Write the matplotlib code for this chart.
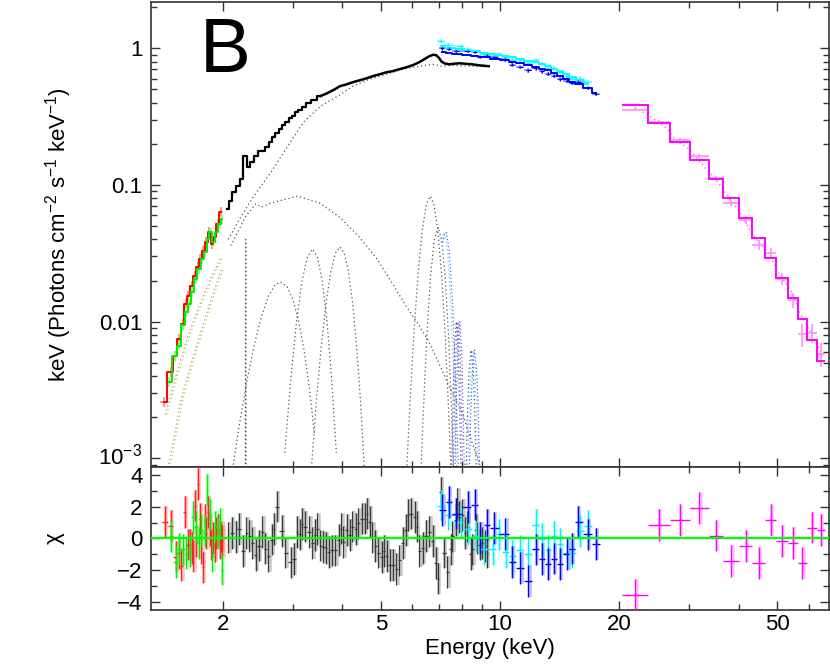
import numpy as np
import matplotlib
matplotlib.use('Agg')
import matplotlib.pyplot as plt
from matplotlib.ticker import FixedLocator, FixedFormatter, NullFormatter
from matplotlib.transforms import ScaledTranslation

plt.rcParams['font.family'] = ['Liberation Sans', 'DejaVu Sans']
plt.rcParams['mathtext.fontset'] = 'custom'
plt.rcParams['mathtext.rm'] = 'Liberation Sans'
plt.rcParams['mathtext.it'] = 'Liberation Sans:italic'
plt.rcParams['mathtext.default'] = 'regular'

# ---------------- data ----------------
# black instrument: unfolded spectrum (step model), keV
blk_E = [2.04, 2.09, 2.13, 2.18, 2.22, 2.27, 2.32, 2.36, 2.42, 2.47, 2.53, 2.58, 2.64, 2.68, 2.73,
         2.79, 2.84, 2.89, 2.96, 3.01, 3.06, 3.13, 3.19, 3.28, 3.38, 3.52, 3.66, 3.83, 3.94, 4.11,
         4.25, 4.43, 4.61, 4.77, 4.97, 5.17, 5.35, 5.57, 5.80, 6.01, 6.25, 6.43, 6.62, 6.78, 6.90,
         7.02, 7.10, 7.22, 7.43, 7.65, 7.87, 8.19, 8.48, 8.84, 9.36]
blk_F = [0.0668, 0.0764, 0.0889, 0.0984, 0.1106, 0.163, 0.135, 0.147, 0.163, 0.177, 0.177, 0.189, 0.206, 0.224, 0.240,
         0.256, 0.274, 0.288, 0.308, 0.319, 0.341, 0.353, 0.371, 0.397, 0.417, 0.447, 0.469, 0.502, 0.528, 0.546,
         0.565, 0.584, 0.604, 0.625, 0.646, 0.668, 0.680, 0.703, 0.726, 0.751, 0.791, 0.831, 0.874, 0.897, 0.889,
         0.846, 0.804, 0.777, 0.764, 0.770, 0.777, 0.770, 0.764, 0.751, 0.739]

# red and green instruments (low energy)
red_E = [1.416, 1.474, 1.513, 1.544, 1.580, 1.607, 1.630, 1.664, 1.697, 1.727, 1.752, 1.777, 1.814, 1.845,
         1.877, 1.904, 1.937, 1.977]
red_F = [0.0026, 0.00432, 0.00565, 0.00752, 0.00967, 0.0135, 0.0155, 0.0183, 0.0217, 0.0252, 0.0288, 0.033,
         0.0384, 0.0454, 0.0371, 0.0417, 0.0519, 0.0636]
grn_E = [1.462, 1.513, 1.544, 1.580, 1.616, 1.644, 1.673, 1.708, 1.737, 1.772, 1.803, 1.829, 1.861, 1.888,
         1.921, 1.960, 1.989]
grn_F = [0.00365, 0.0056, 0.0067, 0.0094, 0.0118, 0.0135, 0.0165, 0.0206, 0.0244, 0.0288, 0.0324, 0.040,
         0.045, 0.038, 0.045, 0.052, 0.056]

# cyan and blue instruments
cyn_E = [7.08, 7.40, 7.95, 8.30, 8.67, 9.09, 9.57, 9.91, 10.33, 10.74, 11.23, 11.78, 12.28, 12.76, 13.21,
         13.68, 14.13, 14.76, 15.15, 15.86, 16.64]
cyn_M = [1.04, 1.0, 0.99, 0.96, 0.95, 0.93, 0.91, 0.90, 0.88, 0.86, 0.84, 0.81, 0.79, 0.77, 0.74,
         0.71, 0.68, 0.65, 0.62, 0.59, 0.55]
cyn_chi = [2.07, 1.50, 1.05, 0.59, 0.12, -0.70, -0.70, 0.25, -0.86, -1.11, -0.76, -1.0, 0.84, -0.04, -0.76,
           0.12, -0.33, -0.94, -0.90, 0.45, 0.80]
cyn_err = [0.04] * 21
blu_E = [7.15, 7.43, 7.72, 8.30, 8.63, 8.92, 9.26, 9.63, 10.30, 10.70, 11.23, 11.78, 12.28, 12.72, 13.21,
         13.68, 14.13, 14.76, 15.15, 15.70, 16.64, 17.45]
blu_M = [0.94, 0.92, 0.91, 0.89, 0.875, 0.865, 0.86, 0.84, 0.82, 0.80, 0.78, 0.76, 0.73, 0.71, 0.69,
         0.66, 0.63, 0.60, 0.57, 0.55, 0.51, 0.47]
blu_chi = [1.80, 2.30, 1.56, 1.97, 2.13, 0.02, 0.84, 0.64, 0.29, -1.48, -1.87, -2.69, -0.70, -1.31, -1.62,
           -1.27, -1.62, -0.98, -0.64, 1.05, 0.25, -0.37]
blu_err = [0.035] * 22

# magenta instrument (hard X-ray), explicit bin edges
mag_edges = [20.35, 23.63, 26.82, 30.09, 33.58, 36.6, 40.1, 43.3, 46.6, 49.7, 53.2, 56.4, 59.4, 62.9, 66.2]
mag_M = [0.384, 0.284, 0.206, 0.152, 0.111, 0.080, 0.0574, 0.041, 0.0293, 0.0209, 0.015, 0.0105, 0.0074, 0.0052]
mag_chi = [-3.57, 0.86, 1.17, 1.91, 0.18, -1.42, -0.49, -1.54, 1.17, -0.18, -0.31, -1.54, 0.68, 0.55]
mag_err = [0.02, 0.025, 0.03, 0.035, 0.04, 0.05, 0.06, 0.07, 0.08, 0.10, 0.12, 0.15, 0.18, 0.22]

# model components (dotted)
cont_E = [2.06, 2.22, 2.39, 2.64, 2.91, 3.19, 3.52, 3.89, 4.25, 4.69, 5.17, 5.67, 6.25, 6.74, 7.14, 7.56, 8.34, 9.36]
cont_F = [0.040, 0.059, 0.083, 0.124, 0.192, 0.288, 0.377, 0.446, 0.528, 0.594, 0.646, 0.703, 0.739, 0.764,
          0.739, 0.75, 0.74, 0.735]
bump_E = [2.09, 2.20, 2.27, 2.35, 2.42, 2.50, 2.65, 3.08, 3.50, 3.94, 4.40, 4.88, 5.35, 5.78, 6.20, 6.62, 7.00,
          7.42, 8.00, 8.50, 8.90]
bump_F = [0.036, 0.048, 0.058, 0.066, 0.073, 0.069, 0.074, 0.083, 0.074, 0.058, 0.042, 0.029, 0.019, 0.0131,
          0.0097, 0.0071, 0.0050, 0.0034, 0.0022, 0.0013, 0.0009]
lo_up_E = [1.43, 1.52, 1.62, 1.73, 1.85, 1.98]
lo_up_F = [0.0021, 0.0040, 0.0075, 0.0125, 0.020, 0.030]
lo_dn_E = [1.44, 1.47, 1.57, 1.67, 1.77, 1.87, 1.98]
lo_dn_F = [0.0008, 0.0010, 0.0028, 0.0052, 0.0090, 0.0150, 0.024]
g0_E = [2.275, 2.28, 2.285]
g0_F = [0.0008, 0.040, 0.0008]
g1_E = [2.12, 2.20, 2.30, 2.40, 2.50, 2.60, 2.70, 2.79, 2.90, 3.00, 3.10, 3.20, 3.30, 3.40]
g1_F = [0.0009, 0.0018, 0.0038, 0.0069, 0.011, 0.0153, 0.0185, 0.0196, 0.018, 0.0145, 0.0102, 0.0062, 0.0033, 0.0015]
g2_E = [2.86, 2.96, 3.06, 3.16, 3.26, 3.36, 3.46, 3.56, 3.66, 3.76, 3.86]
g2_F = [0.0011, 0.0037, 0.0098, 0.0196, 0.0296, 0.034, 0.0296, 0.0196, 0.0098, 0.0037, 0.0011]
g3_E = [3.34, 3.44, 3.54, 3.64, 3.74, 3.84, 3.94, 4.04, 4.14, 4.24, 4.34, 4.44, 4.54]
g3_F = [0.00086, 0.0027, 0.0068, 0.014, 0.0234, 0.0318, 0.0353, 0.0318, 0.0234, 0.014, 0.0068, 0.0027, 0.00086]
g4_E = [5.81, 5.91, 6.06, 6.21, 6.36, 6.51, 6.66, 6.81, 6.96, 7.11, 7.26, 7.41, 7.51]
g4_F = [0.00083, 0.0023, 0.0084, 0.0229, 0.0467, 0.072, 0.083, 0.072, 0.0467, 0.0229, 0.0084, 0.0023, 0.00083]
g5_E = [6.27, 6.37, 6.52, 6.67, 6.82, 6.97, 7.12, 7.27, 7.42, 7.57, 7.67]
g5_F = [0.0005, 0.0016, 0.0072, 0.021, 0.0396, 0.049, 0.0396, 0.021, 0.0072, 0.0016, 0.0005]
g5c_E = [7.02, 7.10, 7.17, 7.30, 7.45, 7.60, 7.72]
g5c_F = [0.038, 0.044, 0.045, 0.032, 0.012, 0.0025, 0.0006]
g6_E = [7.52, 7.60, 7.66, 7.75, 7.84, 7.90, 7.98]
g6_F = [0.0006, 0.0025, 0.0062, 0.0100, 0.0062, 0.0025, 0.0006]
g7_E = [8.18, 8.27, 8.35, 8.45, 8.55, 8.63, 8.72]
g7_F = [0.0006, 0.0022, 0.0045, 0.0062, 0.0045, 0.0022, 0.0006]
mag_mod_E = [21.9, 23.8, 25.2, 26.4, 27.9, 29.6, 31.0, 32.8, 34.6, 36.2, 37.9, 40.1, 42.5, 44.8, 47.4, 49.7,
             52.0, 54.8, 56.7, 60.0, 62.5, 65.1]
mag_mod_F = [0.371, 0.319, 0.288, 0.256, 0.209, 0.189, 0.163, 0.135, 0.114, 0.0966, 0.079, 0.0646, 0.0478,
             0.0384, 0.0324, 0.0244, 0.0199, 0.016, 0.012, 0.0089, 0.00715, 0.00565]

# residuals (chi)
blk_res_E = [2.06, 2.10, 2.15, 2.19, 2.24, 2.29, 2.33, 2.37, 2.42, 2.46, 2.51, 2.55, 2.60, 2.65, 2.68, 2.73,
             2.81, 2.87, 2.96, 3.02, 3.07, 3.12, 3.16, 3.21, 3.30, 3.36, 3.41, 3.46, 3.52, 3.58, 3.63, 3.70,
             3.76, 3.84, 3.91, 3.97, 4.02, 4.10, 4.18, 4.24, 4.33, 4.39, 4.47, 4.55, 4.60, 4.69, 4.76, 4.83,
             4.93, 5.02, 5.09, 5.18, 5.27, 5.36, 5.47, 5.57, 5.68, 5.77, 5.85, 5.96, 6.08, 6.16, 6.25, 6.37,
             6.50, 6.62, 6.75, 6.88, 6.95, 7.08, 7.22, 7.36, 7.50, 7.57, 7.72, 7.80, 7.87, 8.02, 8.15, 8.26,
             8.42, 8.50, 8.67, 8.75, 8.88, 9.00, 9.18, 9.26]
blk_res = [0.06, 0.33, 0.10, 0.59, -0.78, 0.35, 0.16, -0.27, -1.07, -0.45, 0.39, -0.64, -1.11, -0.08, 0.59, 2.01,
           0.47, -0.90, -1.52, -1.31, 0.41, 0.25, 0.90, 0.74, 0.39, -0.27, 0.23, 0.59, -0.45, -0.55, -0.62, -0.84,
           -0.76, -0.76, -0.12, 0.62, -0.25, 0.53, 0.23, 0.74, 0.57, 0.94, 1.25, 1.25, 1.56, 1.05, 0.06, -0.49,
           -0.90, -1.17, -0.80, -1.11, -1.68, -1.68, -1.93, -1.39, -0.29, 0.53, 1.48, 1.56, 1.35, 0.74, -0.80, -0.59,
           0.16, 0.43, -0.18, -1.55, -2.54, 2.9, -0.9, -2.13, -0.70, 0.12, 1.15, 2.17, 1.35, 1.46, 0.33, 0.74,
           -1.0, -0.70, 0.53, 0.02, -0.39, -0.29, -0.49, -0.90]
red_res_E = [1.427, 1.477, 1.520, 1.546, 1.570, 1.600, 1.626, 1.647, 1.664, 1.680, 1.696, 1.712, 1.729, 1.745,
             1.762, 1.779, 1.796, 1.813, 1.831, 1.848, 1.867, 1.885, 1.902, 1.921, 1.940, 1.958, 1.977, 1.989]
red_res = [1.05, 0.78, -1.15, -0.94, -1.72, 1.66, -0.39, -0.39, -0.59, -1.11, 2.07, -0.18, 3.41, 1.25,
           -0.59, -1.83, 1.15, 0.33, 1.66, 0.53, -0.39, 0.02, -0.49, 0.33, 0.53, -0.29, 0.12, -0.18]
grn_res_E = [1.477, 1.520, 1.546, 1.586, 1.616, 1.647, 1.680, 1.705, 1.735, 1.762, 1.796, 1.821, 1.848, 1.877,
             1.910, 1.940, 1.969, 1.985]
grn_res = [0.16, -1.48, -0.66, -0.70, -0.96, -0.80, 1.35, 0.74, -0.29, 0.53, 0.43, 3.08, 1.46, -1.11,
           0.74, 0.33, 0.94, -1.97]

# ---------------- figure ----------------
fig = plt.figure(figsize=(8.30, 6.64), dpi=100)
ax1 = fig.add_axes([0.1816, 0.2971, 0.8176, 0.7003])
ax2 = fig.add_axes([0.1816, 0.0813, 0.8176, 0.2158], sharex=ax1)

dot = (0, (1, 2.2))
dcol = '#555555'


def log_edges(c):
    c = np.asarray(c, float)
    m = np.sqrt(c[:-1] * c[1:])
    lo = np.concatenate([[c[0] ** 2 / m[0]], m])
    hi = np.concatenate([m, [c[-1] ** 2 / m[-1]]])
    return lo, hi


# dotted model components
for E, F in [(cont_E, cont_F), (bump_E, bump_F), (g0_E, g0_F), (g1_E, g1_F), (g2_E, g2_F),
             (g3_E, g3_F), (g4_E, g4_F), (g5_E, g5_F), (g6_E, g6_F), (g7_E, g7_F)]:
    ax1.plot(E, F, ls=dot, color=dcol, lw=0.9, zorder=1)
for E, F in [(lo_up_E, lo_up_F), (lo_dn_E, lo_dn_F)]:
    ax1.plot(E, F, ls=dot, color='#ff7070', lw=0.9, zorder=1)
    ax1.plot(np.asarray(E) * 1.01, F, ls=dot, color='#70ff70', lw=0.9, zorder=1)
for E, F, c in [(g5c_E, g5c_F, '#40e0ff'), (g6_E, g6_F, '#6060ff'), (g7_E, g7_F, '#40e0ff')]:
    ax1.plot(np.asarray(E) * 1.01, F, ls=dot, color=c, lw=0.9, zorder=1)
    ax1.plot(np.asarray(E) * 1.02, F, ls=dot, color='#4040ff', lw=0.8, zorder=1)
ax1.plot(mag_mod_E, mag_mod_F, ls=dot, color='#ff60ff', lw=1.0, zorder=1)

# red / green spectra
for E, F, c, lc in [(red_E, red_F, '#ff0000', '#ff8080'), (grn_E, grn_F, '#00ee00', '#80ff80')]:
    E = np.asarray(E); F = np.asarray(F)
    lo, hi = log_edges(E)
    ax1.errorbar(E, F, yerr=0.08 * F, xerr=[E - lo, hi - E], fmt='none', ecolor=lc, elinewidth=1.2, zorder=2)
    ax1.step(E, F, where='mid', color=c, lw=1.4, zorder=3)

# black spectrum
ax1.step(blk_E[:26], blk_F[:26], where='mid', color='black', lw=1.6, zorder=4)
ax1.plot(blk_E[25:], blk_F[25:], color='black', lw=1.8, zorder=4)

# cyan / blue spectra
for E, M, chi, er, c, lc in [(cyn_E, cyn_M, cyn_chi, cyn_err, '#00ffff', '#80ffff'),
                             (blu_E, blu_M, blu_chi, blu_err, '#0000ff', '#8080ff')]:
    E = np.asarray(E); M = np.asarray(M); er = np.asarray(er); chi = np.asarray(chi)
    lo, hi = log_edges(E)
    D = M * (1 + chi * er)
    ax1.errorbar(E, D, yerr=M * er, xerr=[E - lo, hi - E], fmt='none', ecolor=lc, elinewidth=1.1, zorder=2)
    ax1.errorbar(E, D, yerr=M * er * 0.6, xerr=[(E - lo) * 0.6, (hi - E) * 0.6], fmt='none',
                 ecolor=c, elinewidth=0.8, zorder=3)
    ax1.step(E, M, where='mid', color=c, lw=1.4, zorder=3)

# magenta spectrum
me = np.asarray(mag_edges); mM = np.asarray(mag_M); mchi = np.asarray(mag_chi); merr = np.asarray(mag_err)
mc = np.sqrt(me[:-1] * me[1:])
mD = mM * (1 + mchi * merr)
ax1.errorbar(mc, mD, yerr=mM * merr, xerr=[mc - me[:-1], me[1:] - mc], fmt='none',
             ecolor='#ff90ff', elinewidth=1.2, zorder=2)
ax1.stairs(mM, me, baseline=None, color='#ff00ff', lw=1.4, zorder=3)

# ---------------- residuals ----------------


def resid(E, chi, col, light, xe=None, lw=1.0):
    E = np.asarray(E, float); chi = np.asarray(chi, float)
    if xe is None:
        lo, hi = log_edges(E)
        xe = [E - lo, hi - E]
    ax2.vlines(E * 1.008, chi - 1, chi + 1, color=light, lw=2.6, alpha=0.55, zorder=2)
    ax2.errorbar(E, chi, yerr=1.0, xerr=xe, fmt='none', ecolor=col, elinewidth=lw, zorder=3)


resid(red_res_E, red_res, '#ff2020', '#ff9090')
resid(grn_res_E, grn_res, '#00ee00', '#90ff90')
resid(blk_res_E, blk_res, '#3a3a3a', '#a0a0a0', lw=0.9)
resid(cyn_E, cyn_chi, '#00f0ff', '#90ffff')
resid(blu_E, blu_chi, '#0000ff', '#9090ff')
resid(mc, mag_chi, '#ff00ff', '#ff99ff', xe=[mc - me[:-1], me[1:] - mc])
ax2.axhline(0, color='#00ff00', lw=1.6, zorder=6)

# ---------------- axes styling ----------------
ax1.set_xscale('log')
ax1.set_yscale('log')
ax1.set_xlim(1.313, 67.7)
ax1.set_ylim(8.7e-4, 2.19)
ax2.set_ylim(-4.52, 4.52)

ax1.yaxis.set_major_locator(FixedLocator([1e-3, 1e-2, 1e-1, 1]))
ax1.yaxis.set_major_formatter(FixedFormatter(['$10^{-3}$', '0.01', '0.1', '1']))
yminor = [m * 10.0 ** k for k in (-4, -3, -2, -1, 0) for m in range(2, 10)]
ax1.yaxis.set_minor_locator(FixedLocator(yminor))
ax1.yaxis.set_minor_formatter(NullFormatter())

ax2.xaxis.set_major_locator(FixedLocator([2, 5, 10, 20, 50]))
ax2.xaxis.set_major_formatter(FixedFormatter(['2', '5', '10', '20', '50']))
ax2.xaxis.set_minor_locator(FixedLocator([3, 4, 6, 7, 8, 9, 30, 40, 60]))
ax2.xaxis.set_minor_formatter(NullFormatter())
ax2.yaxis.set_major_locator(FixedLocator([-4, -2, 0, 2, 4]))
ax2.yaxis.set_major_formatter(FixedFormatter(['\u22124', '\u22122', '0', '2', '4']))
ax2.yaxis.set_minor_locator(FixedLocator([-3, -1, 1, 3]))
plt.setp(ax1.get_xticklabels(), visible=False)

for ax in (ax1, ax2):
    ax.tick_params(which='both', direction='in', top=True, right=True, color='#333333', width=1.0)
    ax.tick_params(which='major', length=6.5, labelsize=16, pad=6)
    ax.tick_params(which='minor', length=4.2)
    ax.tick_params(axis='x', which='major', pad=3)
    for s in ax.spines.values():
        s.set_color('#333333')
        s.set_linewidth(1.2)

# lift the 10^-3 label slightly so it clears the residual panel's "4"
fig.canvas.draw()
lab = ax1.yaxis.get_major_ticks()[0].label1
lab.set_transform(lab.get_transform() + ScaledTranslation(0, 3.5 / 72, fig.dpi_scale_trans))

ax1.set_ylabel('keV (Photons cm$^{-2}$ s$^{-1}$ keV$^{-1}$)', fontsize=16)
ax1.yaxis.set_label_coords(-0.113, 0.5)
ax2.set_ylabel('\u03c7', fontsize=16)
ax2.yaxis.set_label_coords(-0.127, 0.5)
ax2.set_xlabel('Energy (keV)', fontsize=16, labelpad=2)

ax1.text(0.0727, 0.849, 'B', transform=ax1.transAxes, fontsize=55, ha='left', va='baseline', color='black')

fig.savefig('out.png', dpi=100)
